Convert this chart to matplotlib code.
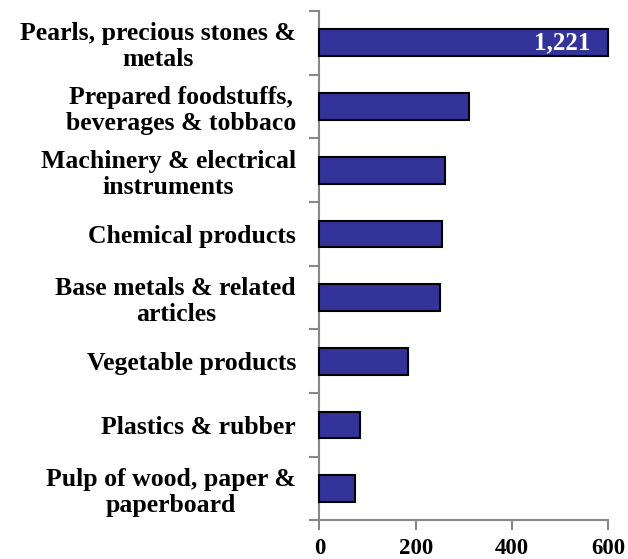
import matplotlib
matplotlib.use("Agg")
import matplotlib.pyplot as plt
import numpy as np

categories = [
    "Pearls, precious stones &\nmetals",
    "Prepared foodstuffs,\nbeverages & tobbaco",
    "Machinery & electrical\ninstruments",
    "Chemical products",
    "Base metals & related\narticles",
    "Vegetable products",
    "Plastics & rubber",
    "Pulp of wood, paper &\npaperboard",
]
values = [1221, 311, 260, 254, 251, 185, 85, 75]
xticks = [0, 200, 400, 600]
xmax = 600

plt.rcParams['font.family'] = ['Liberation Serif', 'DejaVu Serif']
plt.rcParams['font.weight'] = 'bold'

fig = plt.figure(figsize=(6.28, 5.59), dpi=100)
ax = fig.add_axes([0.5085, 0.0690, 0.4602, 0.9113])

y = np.arange(len(categories))
shown = [min(v, xmax) for v in values]
ax.barh(y, shown, height=0.42, color='#333399', edgecolor='black', linewidth=1.5, zorder=3, clip_on=False)

for yi, v in zip(y, values):
    if v > xmax:
        ax.text(563, yi, f"{v:,}", color='white', fontsize=18, fontweight='bold',
                ha='right', va='center', zorder=4)

ax.set_xlim(0, xmax)
ax.set_ylim(len(categories) - 0.5, -0.5)
ax.set_xticks(xticks)
ax.set_xticklabels([str(t) for t in xticks], fontsize=16.5, fontweight='bold')
ax.set_yticks(y)
ax.set_yticklabels(categories, fontsize=18.5, fontweight='bold', ha='right',
                   multialignment='center', linespacing=1.17)
ax.set_yticks(np.arange(len(categories) + 1) - 0.5, minor=True)

for s in ['top', 'right']:
    ax.spines[s].set_visible(False)
for s in ['left', 'bottom']:
    ax.spines[s].set_color('#888888')
    ax.spines[s].set_linewidth(1.5)

ax.tick_params(axis='y', which='major', length=0, pad=16.8)
ax.tick_params(axis='y', which='minor', length=7, width=1.5, color='#888888', direction='out')
ax.tick_params(axis='x', which='major', length=7, width=1.5, color='#888888', direction='out', pad=6)

fig.savefig('out.png', dpi=100)
